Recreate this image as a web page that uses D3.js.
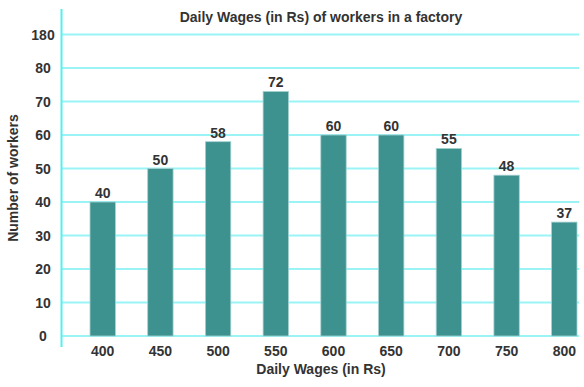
<!DOCTYPE html>
<html>
<head>
<meta charset="utf-8">
<script src="https://cdn.jsdelivr.net/npm/d3@7"></script>
<style>
  body { margin: 0; background: #fff; }
  text { font-family: "Liberation Sans", Arial, sans-serif; font-weight: bold; fill: #333; }
</style>
</head>
<body>
<svg id="chart"></svg>
<script>
// wages on the x axis
var wages = ["400", "450", "500", "550", "600", "650", "700", "750", "800"];
// bar heights as drawn in the picture
var barHeights = [40, 50, 58, 73, 60, 60, 56, 48, 34];
// numbers printed above the bars
var barLabels = ["40", "50", "58", "72", "60", "60", "55", "48", "37"];
// y ticks (the top one is a broken-axis tick shown as 180)
var yTicks = [0, 10, 20, 30, 40, 50, 60, 70, 80, 90];
var yTickLabels = ["0", "10", "20", "30", "40", "50", "60", "70", "80", "180"];

var dimensions = {
    width: 584,
    height: 387,
    margin: { top: 34.5, bottom: 51, right: 6, left: 62 }
}

var svg = d3.select("#chart")
    .attr("width", dimensions.width)
    .attr("height", dimensions.height)

var xScale = d3.scaleBand()
    .domain(wages)
    .range([90, 577])
    .paddingInner(0.56)
    .paddingOuter(0)

var yScale = d3.scaleLinear()
    .domain([0, 90])
    .range([dimensions.height - dimensions.margin.bottom, dimensions.margin.top])

// gridlines
svg.append("g")
    .selectAll("line")
    .data(yTicks)
    .enter()
    .append("line")
    .attr("x1", dimensions.margin.left)
    .attr("x2", 579)
    .attr("y1", function(d) { return yScale(d); })
    .attr("y2", function(d) { return yScale(d); })
    .attr("stroke", "#9af4f5")
    .attr("stroke-width", 2)

// y axis line
svg.append("line")
    .attr("x1", 61.5).attr("x2", 61.5)
    .attr("y1", 9).attr("y2", 347)
    .attr("stroke", "#55eff0")
    .attr("stroke-width", 2)

// y tick labels
svg.append("g")
    .selectAll("text")
    .data(yTicks)
    .enter()
    .append("text")
    .attr("x", 43)
    .attr("y", function(d) { return yScale(d) + 5; })
    .attr("text-anchor", "middle")
    .style("font-size", "14px")
    .text(function(d, i) { return yTickLabels[i]; })

// bars
svg.append("g")
    .selectAll("rect")
    .data(barHeights)
    .enter()
    .append("rect")
    .attr("x", function(d, i) { return xScale(wages[i]); })
    .attr("y", function(d) { return yScale(d); })
    .attr("width", xScale.bandwidth())
    .attr("height", function(d) { return yScale(0) - yScale(d); })
    .attr("fill", "#3d918f")
    .attr("stroke", "#a3d2d0")
    .attr("stroke-width", 0.8)

// value labels
svg.append("g")
    .selectAll("text")
    .data(barHeights)
    .enter()
    .append("text")
    .attr("x", function(d, i) { return xScale(wages[i]) + xScale.bandwidth() / 2; })
    .attr("y", function(d) { return yScale(d) - 4; })
    .attr("text-anchor", "middle")
    .style("font-size", "14px")
    .text(function(d, i) { return barLabels[i]; })

// x tick labels
svg.append("g")
    .selectAll("text")
    .data(wages)
    .enter()
    .append("text")
    .attr("x", function(d) { return xScale(d) + xScale.bandwidth() / 2; })
    .attr("y", 356)
    .attr("text-anchor", "middle")
    .style("font-size", "14px")
    .text(function(d) { return d; })

// axis titles
svg.append("text")
    .attr("x", 321)
    .attr("y", 374)
    .attr("text-anchor", "middle")
    .style("font-size", "14px")
    .text("Daily Wages (in Rs)")

svg.append("text")
    .attr("transform", "translate(18,178) rotate(-90)")
    .attr("text-anchor", "middle")
    .style("font-size", "14px")
    .text("Number of workers")

// chart title
svg.append("text")
    .attr("x", 321)
    .attr("y", 22)
    .attr("text-anchor", "middle")
    .style("font-size", "14px")
    .text("Daily Wages (in Rs) of workers in a factory")
</script>
</body>
</html>
